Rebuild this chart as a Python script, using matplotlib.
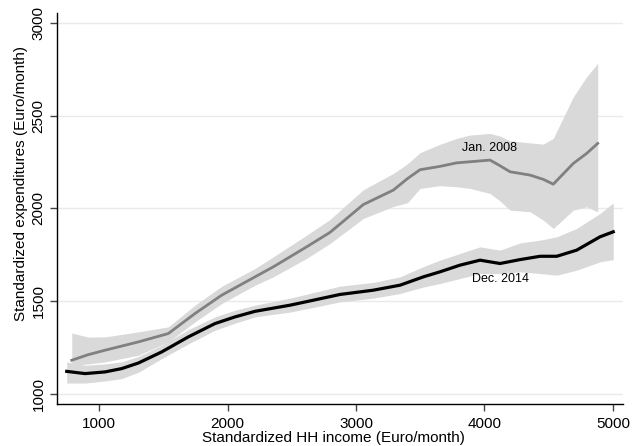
import matplotlib
matplotlib.use("Agg")
import matplotlib.pyplot as plt

plt.rcParams['font.family'] = ['Liberation Sans', 'DejaVu Sans']

# Jan. 2008 series
x08 = [785, 913, 1044, 1304, 1537, 1745, 1953, 2213, 2355, 2615, 2797, 3056, 3290, 3400, 3498,
       3653, 3783, 3887, 4043, 4120, 4199, 4355, 4458, 4536, 4692, 4796, 4882]
m08 = [1180, 1210, 1234, 1279, 1324, 1432, 1531, 1630, 1684, 1792, 1870, 2020, 2098, 2160, 2208,
       2226, 2245, 2251, 2260, 2230, 2197, 2179, 2156, 2130, 2242, 2296, 2350]
hi08 = [1327, 1305, 1306, 1333, 1360, 1477, 1579, 1675, 1738, 1855, 1940, 2100, 2188, 2240, 2300,
        2345, 2377, 2395, 2404, 2390, 2364, 2353, 2346, 2377, 2601, 2710, 2782]
lo08 = [1153, 1160, 1171, 1207, 1279, 1387, 1486, 1585, 1630, 1730, 1810, 1945, 2010, 2030, 2107,
        2122, 2116, 2107, 2080, 2040, 1990, 1981, 1936, 1891, 1990, 2008, 1981]

# Dec. 2014 series
x14 = [746, 889, 1044, 1174, 1304, 1486, 1693, 1901, 2057, 2213, 2485, 2667, 2875, 3134,
       3342, 3524, 3653, 3809, 3965, 4121, 4277, 4433, 4563, 4718, 4900, 5003]
m14 = [1120, 1108, 1117, 1135, 1165, 1225, 1306, 1378, 1414, 1444, 1477, 1504, 1535, 1558,
       1585, 1630, 1657, 1693, 1720, 1702, 1723, 1741, 1741, 1774, 1846, 1873]
hi14 = [1171, 1153, 1160, 1171, 1200, 1261, 1345, 1414, 1450, 1477, 1515, 1545, 1580, 1600,
        1630, 1685, 1720, 1756, 1792, 1774, 1813, 1828, 1846, 1891, 1972, 2029]
lo14 = [1057, 1057, 1068, 1081, 1115, 1189, 1268, 1342, 1380, 1414, 1440, 1465, 1495, 1515,
        1540, 1575, 1594, 1621, 1648, 1648, 1657, 1648, 1639, 1666, 1711, 1723]

xticks = [1000, 2000, 3000, 4000, 5000]
yticks = [1000, 1500, 2000, 2500, 3000]

fig = plt.figure(figsize=(6.33, 4.46), dpi=100)
ax = fig.add_axes([0.0896, 0.0942, 0.8944, 0.8768])

band = '#d9d9d9'
ax.fill_between(x08, lo08, hi08, color=band, lw=0, zorder=2)
ax.fill_between(x14, lo14, hi14, color=band, lw=0, zorder=2)
ax.plot(x08, m08, color='#808080', lw=2.0, zorder=3, solid_joinstyle='round')
ax.plot(x14, m14, color='black', lw=2.3, zorder=4, solid_joinstyle='round')

ax.text(4043, 2326, 'Jan. 2008', fontsize=9, ha='center', va='center', zorder=5)
ax.text(4128, 1616, 'Dec. 2014', fontsize=9, ha='center', va='center', zorder=5)

ax.set_xlim(668, 5078)
ax.set_ylim(944, 3054)
ax.set_xticks(xticks)
ax.set_yticks(yticks)
ax.set_xticklabels([str(t) for t in xticks], fontsize=11)
ax.set_yticklabels([str(t) for t in yticks], fontsize=11, rotation=90, va='center')
ax.grid(axis='y', color='#eaeaea', lw=1.0, zorder=0)
ax.set_axisbelow(True)

for s in ['top', 'right']:
    ax.spines[s].set_visible(False)
for s in ['left', 'bottom']:
    ax.spines[s].set_color('black')
    ax.spines[s].set_linewidth(1.0)
ax.tick_params(axis='both', direction='out', length=5, width=1, color='#444444')
ax.tick_params(axis='x', pad=4.5)
ax.tick_params(axis='y', pad=3)

ax.set_xlabel('Standardized HH income (Euro/month)', fontsize=11)
ax.set_ylabel('Standardized expenditures (Euro/month)', fontsize=11)
ax.xaxis.set_label_coords(0.488, -0.069)
ax.yaxis.set_label_coords(-0.0507, 0.564)

fig.savefig('out.png', dpi=100, facecolor='white')
